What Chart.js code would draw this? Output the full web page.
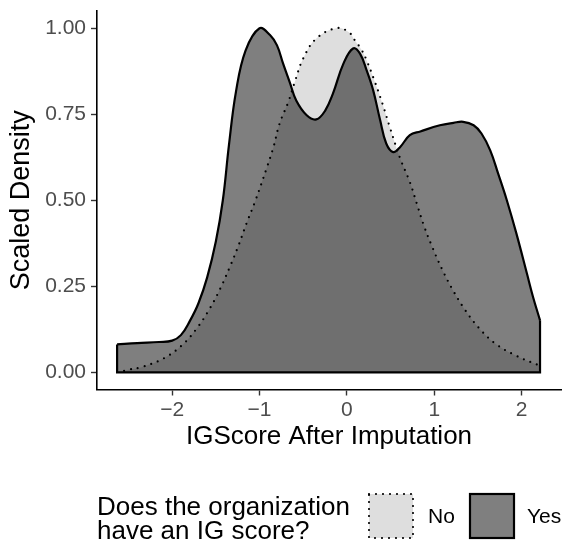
<!DOCTYPE html>
<html>
<head>
<meta charset="utf-8">
<script src="https://cdn.jsdelivr.net/npm/chart.js@4.4.1/dist/chart.umd.min.js"></script>
<style>
  html, body { margin: 0; padding: 0; background: #fff; }
  #wrap { width: 562px; height: 548px; position: relative; }
</style>
</head>
<body>
<div id="wrap"><canvas id="myChart" width="562" height="548"></canvas></div>
<script>
// density curves (scaled so each peak = 1)
const noX = [-2.55, -2.49, -2.35, -2.1, -1.89, -1.72, -1.57, -1.45, -1.34, -1.24, -1.15, -1.05, -0.92, -0.84, -0.77, -0.67, -0.59, -0.5, -0.35, -0.12, 0.015, 0.09, 0.17, 0.225, 0.32, 0.41, 0.49, 0.61, 0.72, 0.8, 0.88, 0.98, 1.09, 1.21, 1.35, 1.51, 1.7, 1.93, 2.18, 2.21];
const noY = [0.004, 0.008, 0.015, 0.04, 0.078, 0.127, 0.185, 0.243, 0.306, 0.369, 0.432, 0.497, 0.592, 0.655, 0.723, 0.786, 0.849, 0.912, 0.97, 1.0, 0.99, 0.965, 0.936, 0.907, 0.844, 0.778, 0.713, 0.621, 0.553, 0.49, 0.427, 0.362, 0.299, 0.24, 0.182, 0.129, 0.083, 0.049, 0.022, 0.02];

const yesX = [-2.63, -2.4, -2.15, -2.0, -1.9, -1.8, -1.7, -1.6, -1.5, -1.42, -1.35, -1.27, -1.16, -1.0, -0.88, -0.8, -0.73, -0.65, -0.58, -0.46, -0.35, -0.25, -0.16, -0.04, 0.07, 0.15, 0.225, 0.3, 0.38, 0.45, 0.53, 0.61, 0.72, 0.84, 1.064, 1.22, 1.33, 1.45, 1.54, 1.64, 1.73, 1.83, 1.94, 2.06, 2.13, 2.21];
const yesY = [0.081, 0.085, 0.088, 0.092, 0.108, 0.148, 0.2, 0.275, 0.38, 0.5, 0.66, 0.815, 0.935, 1.0, 0.98, 0.95, 0.897, 0.84, 0.79, 0.747, 0.735, 0.76, 0.81, 0.897, 0.941, 0.926, 0.878, 0.82, 0.733, 0.665, 0.64, 0.655, 0.689, 0.70, 0.718, 0.725, 0.728, 0.718, 0.694, 0.645, 0.578, 0.5, 0.403, 0.287, 0.219, 0.151];

const xTicks = [-2, -1, 0, 1, 2];
const yTicks = [0, 0.25, 0.5, 0.75, 1];
const groups = ['No', 'Yes'];

const toPts = (xs, ys) => xs.map((x, i) => ({ x: x, y: ys[i] }));
const fam = "'Liberation Sans', Arial, sans-serif";
Chart.defaults.font.family = fam;

const noFill = 'rgba(0,0,0,0.13)';
const yesFill = 'rgba(0,0,0,0.5)';

// closing edges of the Yes polygon (sides + bottom)
const lastYes = yesX.length - 1;
const yesEdge = [
  { x: yesX[0], y: yesY[0] }, { x: yesX[0], y: 0 },
  { x: yesX[lastYes], y: 0 }, { x: yesX[lastYes], y: yesY[lastYes] }
];

// legend on the bottom, title on the left like ggplot
const sideLegend = {
  id: 'sideLegend',
  afterDraw(chart) {
    const ctx = chart.ctx;
    ctx.save();
    ctx.fillStyle = '#000';
    ctx.font = '26px ' + fam;
    ctx.textAlign = 'left';
    ctx.textBaseline = 'alphabetic';
    ctx.fillText('Does the organization', 97, 515);
    ctx.fillText('have an IG score?', 97, 539);

    // No key
    ctx.fillStyle = noFill;
    ctx.fillRect(369, 494, 44, 44);
    ctx.strokeStyle = '#000';
    ctx.lineWidth = 2.2;
    ctx.lineCap = 'round';
    ctx.setLineDash([0, 7]);
    ctx.strokeRect(369, 494, 44, 44);
    // Yes key
    ctx.setLineDash([]);
    ctx.lineCap = 'butt';
    ctx.fillStyle = yesFill;
    ctx.fillRect(470, 494, 44, 44);
    ctx.strokeRect(470, 494, 44, 44);

    ctx.fillStyle = '#000';
    ctx.font = '21px ' + fam;
    ctx.textBaseline = 'middle';
    ctx.fillText(groups[0], 428, 517);
    ctx.fillText(groups[1], 527, 517);
    ctx.restore();
  }
};

const noPad = s => { s.paddingTop = 0; s.paddingBottom = 0; s.paddingLeft = 0; s.paddingRight = 0; };

let myChart = document.getElementById('myChart').getContext('2d');
let newChart = new Chart(myChart, {
  type: 'line',
  data: {
    datasets: [
      {
        label: 'edge',
        data: yesEdge,
        borderColor: '#000',
        borderWidth: 2.2,
        borderJoinStyle: 'miter',
        tension: 0,
        pointRadius: 0,
        fill: false,
        order: 0
      },
      {
        label: groups[1],
        data: toPts(yesX, yesY),
        borderColor: '#000',
        borderWidth: 2.2,
        backgroundColor: yesFill,
        borderJoinStyle: 'round',
        tension: 0.4,
        pointRadius: 0,
        fill: 'origin',
        order: 1
      },
      {
        label: groups[0],
        data: toPts(noX, noY),
        borderColor: '#000',
        borderWidth: 2.2,
        borderDash: [0, 7],
        borderCapStyle: 'round',
        backgroundColor: noFill,
        tension: 0.4,
        pointRadius: 0,
        fill: 'origin',
        order: 2
      }
    ]
  },
  options: {
    responsive: false,
    animation: false,
    layout: { padding: { top: 11, right: 1, bottom: 95.4, left: 0 } },
    plugins: {
      legend: { display: false },
      tooltip: { enabled: false }
    },
    scales: {
      x: {
        type: 'linear',
        min: -2.86,
        max: 2.45,
        afterBuildTicks: s => { s.ticks = xTicks.map(v => ({ value: v })); },
        afterFit: s => { s.height = 63.1; noPad(s); },
        border: { display: true, color: '#000', width: 1.6 },
        grid: { drawOnChartArea: false, drawTicks: true, tickLength: 6, tickColor: '#333', tickWidth: 1.4 },
        ticks: {
          color: '#4d4d4d',
          font: { size: 21 },
          padding: 2,
          maxRotation: 0,
          callback: v => v < 0 ? '\u2212' + Math.abs(v) : String(v)
        },
        title: { display: true, text: 'IGScore After Imputation', color: '#000', font: { size: 26 }, padding: 0 }
      },
      y: {
        min: -0.05,
        max: 1.05,
        afterBuildTicks: s => { s.ticks = yTicks.map(v => ({ value: v })); },
        afterFit: s => { s.width = 97; noPad(s); },
        border: { display: true, color: '#000', width: 1.6 },
        grid: { drawOnChartArea: false, drawTicks: true, tickLength: 6, tickColor: '#333', tickWidth: 1.4 },
        ticks: {
          color: '#4d4d4d',
          font: { size: 21 },
          padding: 5,
          callback: v => v.toFixed(2)
        },
        title: { display: true, text: 'Scaled Density', color: '#000', font: { size: 27 }, padding: 5 }
      }
    }
  },
  plugins: [sideLegend]
});
</script>
</body>
</html>
